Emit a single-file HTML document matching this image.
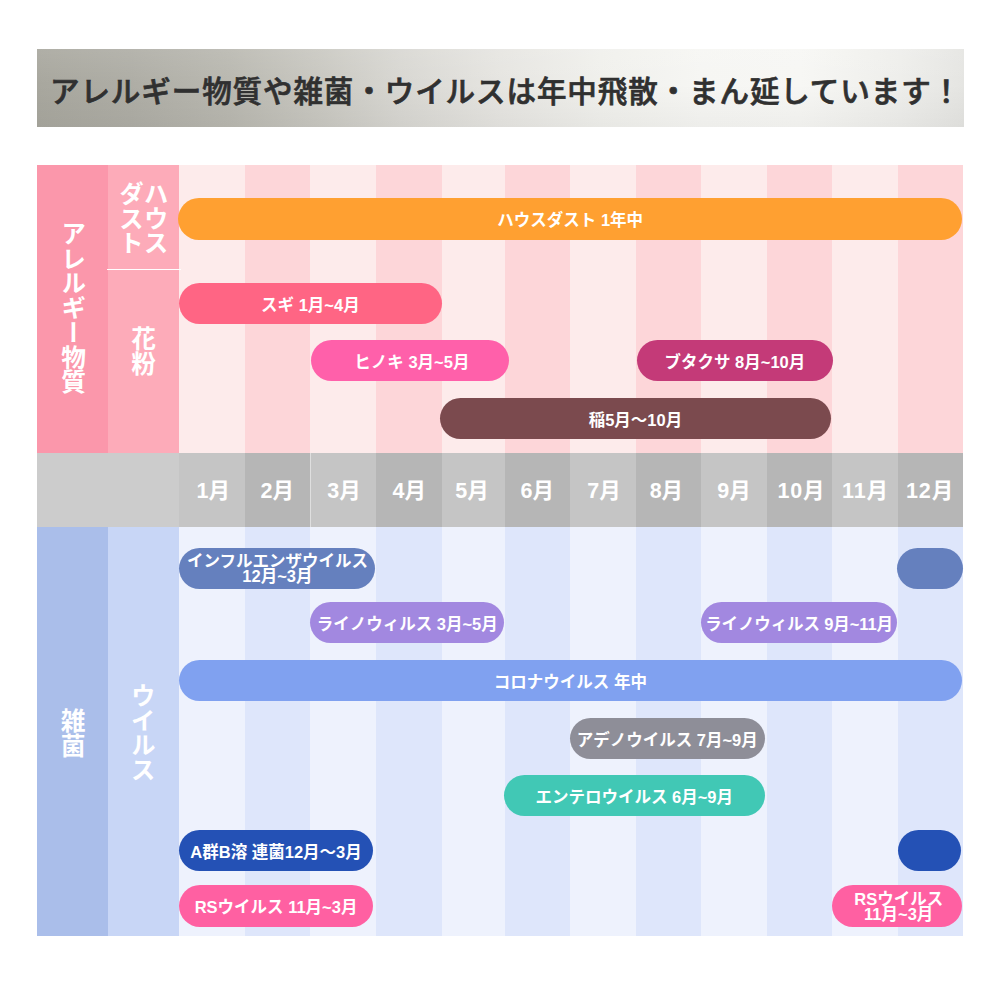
<!DOCTYPE html>
<html lang="ja">
<head>
<meta charset="utf-8">
<title>アレルギー物質や雑菌・ウイルスは年中飛散・まん延しています！</title>
<style>
html,body{margin:0;padding:0;background:#fff;}
body{width:1000px;height:1000px;position:relative;overflow:hidden;font-family:"Liberation Sans","Noto Sans CJK JP",sans-serif;}
div{position:absolute;box-sizing:border-box;}
.hd{left:37px;top:49px;width:926.5px;height:77.5px;background:linear-gradient(180deg,rgba(255,255,255,.09) 0%,rgba(255,255,255,0) 45%,rgba(0,0,0,.035) 100%),linear-gradient(90deg,#a8a79e 0.0%,#aeada5 10.0%,#b9b8b0 20.8%,#c8c7c0 30.0%,#d8d7d2 39.2%,#e6e5e1 50.0%,#f0f0ec 60.8%,#f6f6f3 71.6%,#f7f7f4 82.4%,#eeeeeb 93.1%,#e5e5e2 100.0%);}
.ttl{left:37px;top:52.9px;width:927px;height:77px;line-height:77px;font-size:29.5px;letter-spacing:0.93px;font-weight:500;-webkit-text-stroke:0.7px #303030;color:#303030;white-space:nowrap;padding-left:13px;}
.bar{border-radius:21px;color:#fff;font-weight:700;font-size:16.5px;text-align:center;white-space:nowrap;}
.bar span{display:block;line-height:14.6px;padding-top:6.8px;}
.mo{color:#fff;font-weight:700;font-size:21.5px;text-align:center;white-space:nowrap;}
.vt{writing-mode:vertical-rl;color:#fff;font-weight:700;font-size:24.75px;white-space:nowrap;text-align:center;}
</style>
</head>
<body>
<div class="hd"></div>
<div class="ttl">アレルギー物質や雑菌・ウイルスは年中飛散・まん延しています！</div>

<div style="left:37px;top:165px;width:71.7px;height:289.3px;background:#fb97ab;"></div>
<div style="left:107.7px;top:165px;width:71.3px;height:289.3px;background:#fdabb9;"></div>
<div style="left:179px;top:165px;width:784.3px;height:289.3px;background:#fdebeb;"></div>
<div style="left:37px;top:525.8px;width:71.7px;height:410.4px;background:#aabeea;"></div>
<div style="left:107.7px;top:525.8px;width:71.3px;height:410.4px;background:#c8d6f6;"></div>
<div style="left:179px;top:525.8px;width:784.3px;height:410.4px;background:#eef2fd;"></div>
<div style="left:245px;top:165px;width:65px;height:289.3px;background:#fdd6d9;"></div>
<div style="left:245px;top:525.8px;width:65px;height:410.4px;background:#dee6fb;"></div>
<div style="left:376.25px;top:165px;width:65.35px;height:289.3px;background:#fdd6d9;"></div>
<div style="left:376.25px;top:525.8px;width:65.35px;height:410.4px;background:#dee6fb;"></div>
<div style="left:505.3px;top:165px;width:64.7px;height:289.3px;background:#fdd6d9;"></div>
<div style="left:505.3px;top:525.8px;width:64.7px;height:410.4px;background:#dee6fb;"></div>
<div style="left:635.8px;top:165px;width:65.2px;height:289.3px;background:#fdd6d9;"></div>
<div style="left:635.8px;top:525.8px;width:65.2px;height:410.4px;background:#dee6fb;"></div>
<div style="left:766.8px;top:165px;width:65.2px;height:289.3px;background:#fdd6d9;"></div>
<div style="left:766.8px;top:525.8px;width:65.2px;height:410.4px;background:#dee6fb;"></div>
<div style="left:898px;top:165px;width:65.2px;height:289.3px;background:#fdd6d9;"></div>
<div style="left:898px;top:525.8px;width:65.2px;height:410.4px;background:#dee6fb;"></div>
<div style="left:37px;top:453.3px;width:142px;height:73.5px;background:#cccccc;"></div>
<div style="left:179px;top:453.3px;width:784.3px;height:73.5px;background:#c5c5c5;"></div>
<div style="left:245px;top:453.3px;width:65px;height:73.5px;background:#b6b6b6;"></div>
<div style="left:376.25px;top:453.3px;width:65.35px;height:73.5px;background:#b6b6b6;"></div>
<div style="left:505.3px;top:453.3px;width:64.7px;height:73.5px;background:#b6b6b6;"></div>
<div style="left:635.8px;top:453.3px;width:65.2px;height:73.5px;background:#b6b6b6;"></div>
<div style="left:766.8px;top:453.3px;width:65.2px;height:73.5px;background:#b6b6b6;"></div>
<div style="left:898px;top:453.3px;width:65.2px;height:73.5px;background:#b6b6b6;"></div>
<div style="left:309.6px;top:453.3px;width:1px;height:73.5px;background:rgba(255,255,255,.45);"></div>
<div class="mo" style="left:173.2px;top:455.3px;width:80px;height:73.5px;line-height:73.5px;">1月</div>
<div class="mo" style="left:237.2px;top:455.3px;width:80px;height:73.5px;line-height:73.5px;">2月</div>
<div class="mo" style="left:304px;top:455.3px;width:80px;height:73.5px;line-height:73.5px;">3月</div>
<div class="mo" style="left:369.2px;top:455.3px;width:80px;height:73.5px;line-height:73.5px;">4月</div>
<div class="mo" style="left:432px;top:455.3px;width:80px;height:73.5px;line-height:73.5px;">5月</div>
<div class="mo" style="left:497.2px;top:455.3px;width:80px;height:73.5px;line-height:73.5px;">6月</div>
<div class="mo" style="left:564px;top:455.3px;width:80px;height:73.5px;line-height:73.5px;">7月</div>
<div class="mo" style="left:626.4px;top:455.3px;width:80px;height:73.5px;line-height:73.5px;">8月</div>
<div class="mo" style="left:694px;top:455.3px;width:80px;height:73.5px;line-height:73.5px;">9月</div>
<div class="mo" style="left:761.45px;top:455.3px;width:80px;height:73.5px;line-height:73.5px;letter-spacing:0.9px;">10月</div>
<div class="mo" style="left:825.45px;top:455.3px;width:80px;height:73.5px;line-height:73.5px;letter-spacing:0.9px;">11月</div>
<div class="mo" style="left:890.05px;top:455.3px;width:80px;height:73.5px;line-height:73.5px;letter-spacing:0.9px;">12月</div>
<div style="left:107px;top:268.7px;width:74px;height:1.2px;background:#fff;"></div>
<div class="vt" style="left:50.7px;top:200.5px;width:40px;height:215px;line-height:40px;">アレルギー物質</div>
<div class="vt" style="left:133.1px;top:160.5px;width:40px;height:115px;line-height:40px;">ハウス</div>
<div class="vt" style="left:108.35px;top:160.5px;width:40px;height:115px;line-height:40px;">ダスト</div>
<div class="vt" style="left:120.5px;top:305.6px;width:40px;height:90px;line-height:40px;">花粉</div>
<div class="vt" style="left:50px;top:687.5px;width:40px;height:90px;line-height:40px;">雑菌</div>
<div class="vt" style="left:120.1px;top:662px;width:40px;height:140px;line-height:40px;">ウイルス</div>
<div class="bar" style="left:178.4px;top:198.3px;width:783.6px;height:41.7px;line-height:45.2px;background:#ffa031;">ハウスダスト 1年中</div>
<div class="bar" style="left:178.6px;top:282.6px;width:263.6px;height:41.2px;line-height:44.7px;background:#ff6584;">スギ 1月~4月</div>
<div class="bar" style="left:311px;top:339.8px;width:197.8px;height:41.4px;line-height:44.9px;background:#ff60aa;padding-left:4px;">ヒノキ 3月~5月</div>
<div class="bar" style="left:636.8px;top:339.8px;width:196.2px;height:41.4px;line-height:44.9px;background:#c43a78;">ブタクサ 8月~10月</div>
<div class="bar" style="left:439.5px;top:397.5px;width:391.8px;height:41.3px;line-height:44.8px;background:#7b4a4e;">稲5月～10月</div>
<div class="bar" style="left:179.3px;top:547.5px;width:196.2px;height:41.3px;line-height:44.8px;background:#6580be;"><span>インフルエンザウイルス<br>12月~3月</span></div>
<div class="bar" style="left:897.4px;top:547.5px;width:65.4px;height:41.3px;line-height:44.8px;background:#6580be;"></div>
<div class="bar" style="left:310px;top:601.6px;width:194.4px;height:41.2px;line-height:44.7px;background:#a288e0;">ライノウィルス 3月~5月</div>
<div class="bar" style="left:701px;top:602px;width:196px;height:40.8px;line-height:44.3px;background:#a288e0;letter-spacing:-0.12px;">ライノウィルス 9月~11月</div>
<div class="bar" style="left:178.8px;top:660px;width:783.2px;height:41.2px;line-height:44.7px;background:#80a1f0;">コロナウイルス 年中</div>
<div class="bar" style="left:570px;top:718px;width:194.5px;height:40.8px;line-height:44.3px;background:#8e8e98;">アデノウイルス 7月~9月</div>
<div class="bar" style="left:504px;top:774.8px;width:260.5px;height:41.2px;line-height:44.7px;background:#41c8b5;">エンテロウイルス 6月~9月</div>
<div class="bar" style="left:178.8px;top:830px;width:194.5px;height:41.2px;line-height:44.7px;background:#2451b5;">A群B溶 連菌12月～3月</div>
<div class="bar" style="left:897.6px;top:830px;width:63.8px;height:41.2px;line-height:44.7px;background:#2451b5;"></div>
<div class="bar" style="left:178.8px;top:885px;width:194.5px;height:41.5px;line-height:45px;background:#ff60a2;">RSウイルス 11月~3月</div>
<div class="bar" style="left:832px;top:885.2px;width:130.4px;height:41.6px;line-height:45.1px;background:#ff60a2;padding-left:3px;"><span>RSウイルス<br>11月~3月</span></div>
</body>
</html>
